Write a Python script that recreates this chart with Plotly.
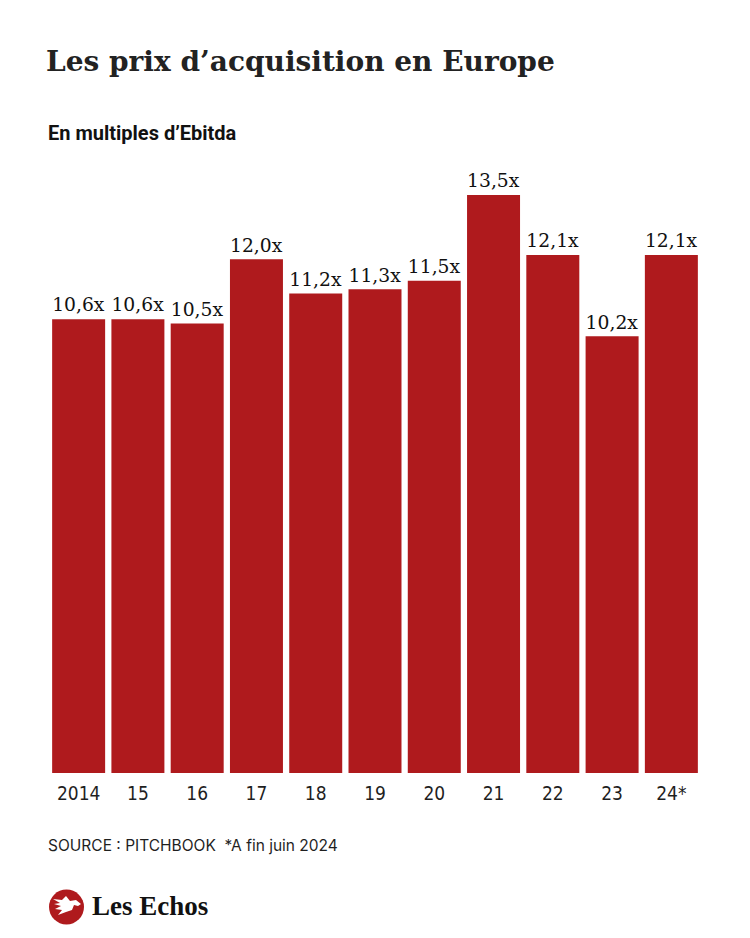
import plotly.graph_objects as go

# ---- data ----
years = ["2014", "15", "16", "17", "18", "19", "20", "21", "22", "23", "24*"]
multiples = [10.6, 10.6, 10.5, 12.0, 11.2, 11.3, 11.5, 13.5, 12.1, 10.2, 12.1]

title = "Les prix d\u2019acquisition en Europe"
subtitle = "En multiples d\u2019Ebitda"
source = "SOURCE : PITCHBOOK \u00a0*A fin juin 2024"
brand = "Les Echos"

# ---- layout geometry (pixels) ----
W, H = 750, 938
L, R, T, B = 49, 49, 195, 165
PW, PH = W - L - R, H - T - B


def px(x):
    return (x - L) / PW


def py(y):
    return (H - B - y) / PH


RED = "#AF1A1D"
INK = "#1f1f1f"

fig = go.Figure(
    go.Bar(
        x=years,
        y=multiples,
        marker=dict(color=RED, line=dict(width=0)),
        texttemplate="%{y:.1f}x",
        textposition="outside",
        textfont=dict(family="DejaVu Serif", size=20, color="#111"),
        cliponaxis=False,
        hoverinfo="skip",
    )
)

fig.update_layout(
    width=W,
    height=H,
    margin=dict(l=L, r=R, t=T, b=B, pad=0),
    paper_bgcolor="white",
    plot_bgcolor="white",
    separators=", ",
    bargap=0.106,
    showlegend=False,
    title=dict(
        text=f"<b>{title}</b>",
        font=dict(family="DejaVu Serif", size=28, color="#222"),
        xref="container",
        yref="container",
        x=46 / W,
        y=1 - 61 / H,
        xanchor="left",
        yanchor="middle",
    ),
    xaxis=dict(
        showgrid=False,
        zeroline=False,
        showline=False,
        ticks="",
        tickfont=dict(family="DejaVu Sans Condensed, Roboto", size=19, color=INK),
        ticklabelstandoff=7,
    ),
    yaxis=dict(
        range=[0, 13.5],
        visible=False,
        showgrid=False,
        zeroline=False,
    ),
)

annotations = [
    dict(
        text=f"<b>{subtitle}</b>",
        x=px(46), y=py(133), xref="paper", yref="paper",
        xanchor="left", yanchor="middle", showarrow=False,
        font=dict(family="Roboto", size=20, color="#111"),
    ),
    dict(
        text=source,
        x=px(46), y=py(845), xref="paper", yref="paper",
        xanchor="left", yanchor="middle", showarrow=False,
        font=dict(family="Inter", size=15.5, color=INK),
    ),
    dict(
        text=f"<b>{brand}</b>",
        x=px(90), y=py(906), xref="paper", yref="paper",
        xanchor="left", yanchor="middle", showarrow=False,
        font=dict(family="Liberation Serif", size=27, color="#111"),
    ),
]
fig.update_layout(annotations=annotations)

# logo: red circle with a stylised white winged figure
cx, cy, r = 66.5, 907, 17.5
shapes = [
    dict(type="circle", xref="paper", yref="paper",
         x0=px(cx - r), x1=px(cx + r), y0=py(cy + r), y1=py(cy - r),
         fillcolor=RED, line=dict(width=0)),
]
bird = [(53, 899), (62, 900), (66, 896), (70, 901), (76, 900), (81, 904),
        (78, 906), (74, 905), (72, 910), (66, 912), (58, 915), (62, 910),
        (55, 909), (61, 906), (54, 904), (60, 903)]
path = "M " + " L ".join(f"{px(x):.5f},{py(y):.5f}" for x, y in bird) + " Z"
shapes.append(dict(type="path", xref="paper", yref="paper", path=path,
                   fillcolor="white", line=dict(width=0)))
fig.update_layout(shapes=shapes)

fig.write_html(
    "out.html",
    config={"displayModeBar": False},
    post_script="document.body.style.margin='0';document.body.style.overflow='hidden';",
)
